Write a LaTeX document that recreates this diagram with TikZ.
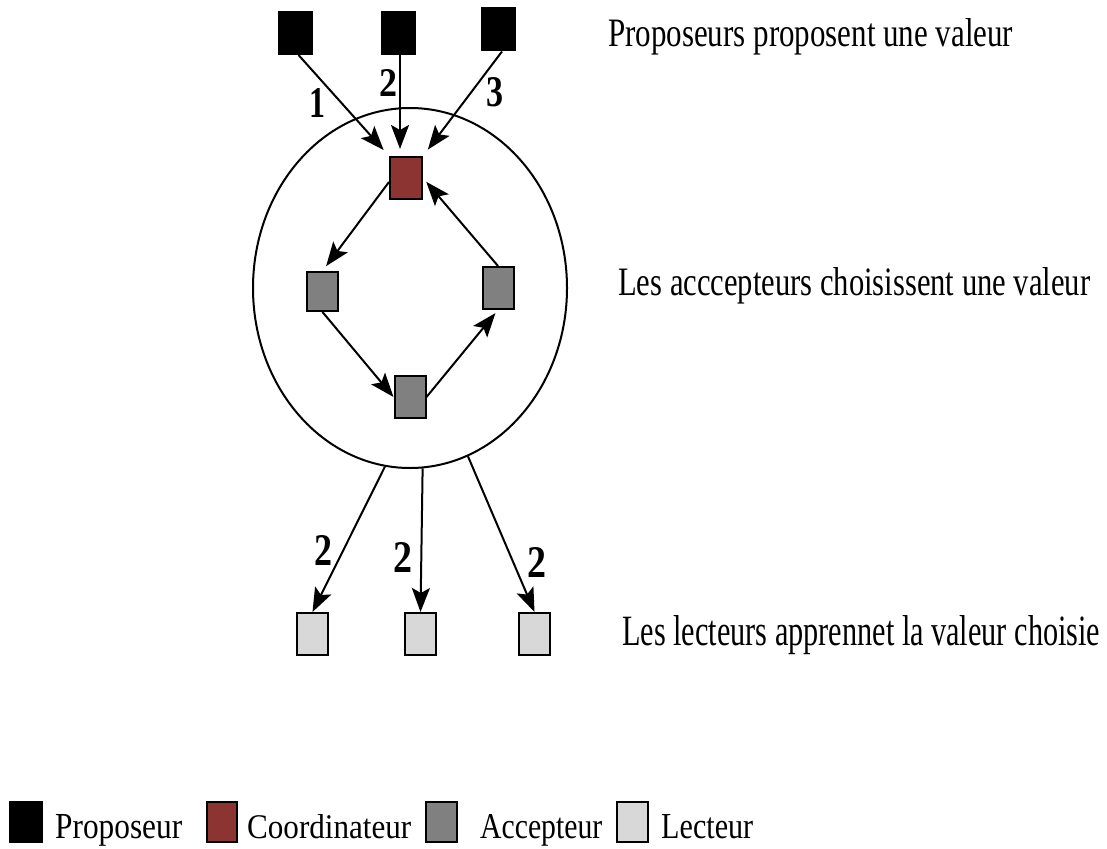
\documentclass[tikz,border=0pt]{standalone}
\usepackage{fontspec}
\setmainfont{Liberation Serif}
\usepackage{graphicx}
\usetikzlibrary{arrows.meta,shapes.geometric,calc}
\definecolor{coordred}{RGB}{140,52,50}
\definecolor{accgrey}{RGB}{128,128,128}
\definecolor{lectgrey}{RGB}{216,216,216}
\newcommand\fitbox[3]{\resizebox{#1pt}{#2pt}{#3}}
\tikzset{
  sq/.style={draw=black, line width=2pt, inner sep=0pt, minimum width=31pt, minimum height=41pt},
  prop/.style={sq, fill=black},
  coord/.style={sq, fill=coordred},
  acc/.style={sq, fill=accgrey},
  lect/.style={sq, fill=lectgrey},
  arr/.style={line width=2pt, -{Stealth[length=24pt,width=18pt,inset=5pt]}},
  lbl/.style={inner sep=0pt, anchor=base west},
  num/.style={inner sep=0pt, anchor=center},
}
\begin{document}
\begin{tikzpicture}[x=1pt,y=-1pt]
\useasboundingbox (0,0) rectangle (1107,848);
% proposers
\node[prop, minimum width=33pt, minimum height=42pt] (p1) at (295.5,33) {};
\node[prop, minimum width=33pt, minimum height=42pt] (p2) at (398,33) {};
\node[prop, minimum width=33pt, minimum height=42pt] (p3) at (498,29.5) {};
% ring
\node[ellipse, draw, line width=2pt, minimum width=314pt, minimum height=360pt, inner sep=0pt] (ring) at (410,288) {};
% coordinator and acceptors
\node[coord, minimum width=32pt, minimum height=42pt] (c) at (406,178) {};
\node[acc, minimum height=39pt] (a1) at (322.5,291.5) {};
\node[acc, minimum height=42pt] (a2) at (498,288) {};
\node[acc, minimum height=42pt] (a3) at (410,397) {};
% readers
\node[lect, minimum height=42pt] (l1) at (312.5,634) {};
\node[lect, minimum height=42pt] (l2) at (420.5,634) {};
\node[lect, minimum height=42pt] (l3) at (534.5,634) {};
% arrows proposers -> coordinator
\draw[arr, shorten >=8pt] ($(p1.south)+(3,0)$) -- (c.north west);
\draw[arr, shorten >=7pt] ($(p2.south)+(2,0)$) -- ($(c.north)+(-6,0)$);
\draw[arr, shorten >=8pt] ($(p3.south)+(4,0)$) -- (c.north east);
% ring cycle
\draw[arr, shorten >=6pt] ($(c.west)+(0,4)$) -- (a1.north);
\draw[arr] (a1.south) -- (a3.west);
\draw[arr, shorten >=4pt] (a3.east) -- (a2.south);
\draw[arr, shorten >=5pt] (a2.north) -- (c.east);
% ring -> readers
\draw[arr] (ring.-98.6) -- (l1.north);
\draw[arr] (ring.-86.2) -- (l2.north);
\draw[arr] (ring.-71.9) -- (l3.north);
% numbers
\node[num] (n1) at (317,103) {\fitbox{16}{29}{\bfseries 1}};
\node[num] (n2) at (388,83) {\fitbox{18}{27}{\bfseries 2}};
\node[num] (n3) at (495,92) {\fitbox{17}{29}{\bfseries 3}};
\node[num] (n4) at (323,550) {\fitbox{18}{30}{\bfseries 2}};
\node[num] (n5) at (403,557) {\fitbox{19}{30}{\bfseries 2}};
\node[num] (n6) at (537,562) {\fitbox{19}{30}{\bfseries 2}};
% side texts
\node[lbl] (t1) at (608,47) {\fitbox{405}{28}{Proposeurs proposent une valeur}};
\node[lbl] (t2) at (618,295) {\fitbox{472}{28}{Les acccepteurs choisissent une valeur}};
\node[lbl] (t3) at (622,645) {\fitbox{478}{30}{Les lecteurs apprennet la valeur choisie}};
% legend
\node[prop, minimum width=32pt, minimum height=40pt] (k1) at (26,822) {};
\node[lbl] (k1t) at (55,838) {\fitbox{127}{24}{Proposeur}};
\node[coord, minimum width=30pt, minimum height=40pt] (k2) at (222,822) {};
\node[lbl] (k2t) at (247,838) {\fitbox{164}{24}{Coordinateur}};
\node[acc, minimum width=31pt, minimum height=40pt] (k3) at (441.5,822) {};
\node[lbl] (k3t) at (480,838) {\fitbox{122}{24}{Accepteur}};
\node[lect, minimum width=31pt, minimum height=40pt] (k4) at (632.5,822) {};
\node[lbl] (k4t) at (661,838) {\fitbox{92}{24}{Lecteur}};
\end{tikzpicture}
\end{document}
